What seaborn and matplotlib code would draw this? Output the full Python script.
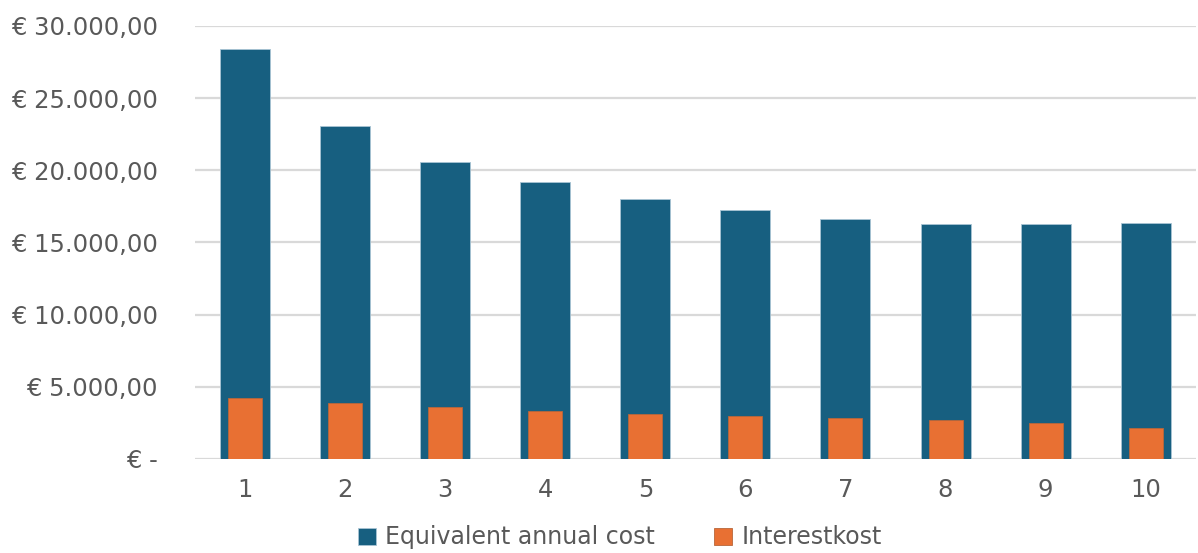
import matplotlib
matplotlib.use("Agg")
import matplotlib.pyplot as plt
import matplotlib.ticker as mticker
import seaborn as sns

# data
years = [1, 2, 3, 4, 5, 6, 7, 8, 9, 10]
equivalent_annual_cost = [28400, 23060, 20570, 19180, 18000, 17220, 16640, 16300, 16250, 16360]
interestkost = [4200, 3860, 3580, 3350, 3140, 2980, 2820, 2680, 2470, 2170]

blue = "#175F80"
orange = "#E87033"
grey = "#595959"

sns.set_theme(style="white")
plt.rcParams["font.family"] = ["DejaVu Sans"]

fig = plt.figure(figsize=(11.98, 5.53), dpi=100)
ax = fig.add_axes([0.163, 0.17, 0.835, 0.783])

sns.barplot(x=years, y=equivalent_annual_cost, color=blue, width=0.5,
            label="Equivalent annual cost", edgecolor="#A9C4D4", linewidth=0.6,
            saturation=1, ax=ax)
sns.barplot(x=years, y=interestkost, color=orange, width=0.34,
            label="Interestkost", edgecolor="#B8663A", linewidth=0.6,
            saturation=1, ax=ax)

def euro(v, pos):
    if v == 0:
        return "€ -"
    s = f"{v:,.2f}".replace(",", "X").replace(".", ",").replace("X", ".")
    return "€ " + s

ax.set_ylim(0, 30000)
ax.set_xlim(-0.5, 9.5)
ax.yaxis.set_major_locator(mticker.MultipleLocator(5000))
ax.yaxis.set_major_formatter(mticker.FuncFormatter(euro))
ax.grid(axis="y", color="#D9D9D9", linewidth=1.6)
ax.set_axisbelow(True)
for side in ["top", "right", "left", "bottom"]:
    ax.spines[side].set_visible(False)
ax.tick_params(axis="both", length=0, labelsize=17.5, labelcolor=grey)
ax.tick_params(axis="y", pad=27)
ax.tick_params(axis="x", pad=14)

ax.legend(loc="lower center", bbox_to_anchor=(0.5175, 0.0), bbox_transform=fig.transFigure,
          ncol=2, frameon=False, borderaxespad=0.05, borderpad=0.1,
          fontsize=17, labelcolor=grey, handlelength=0.75, handleheight=0.75,
          handletextpad=0.4, columnspacing=2.5)

fig.savefig("out.png", dpi=100)
